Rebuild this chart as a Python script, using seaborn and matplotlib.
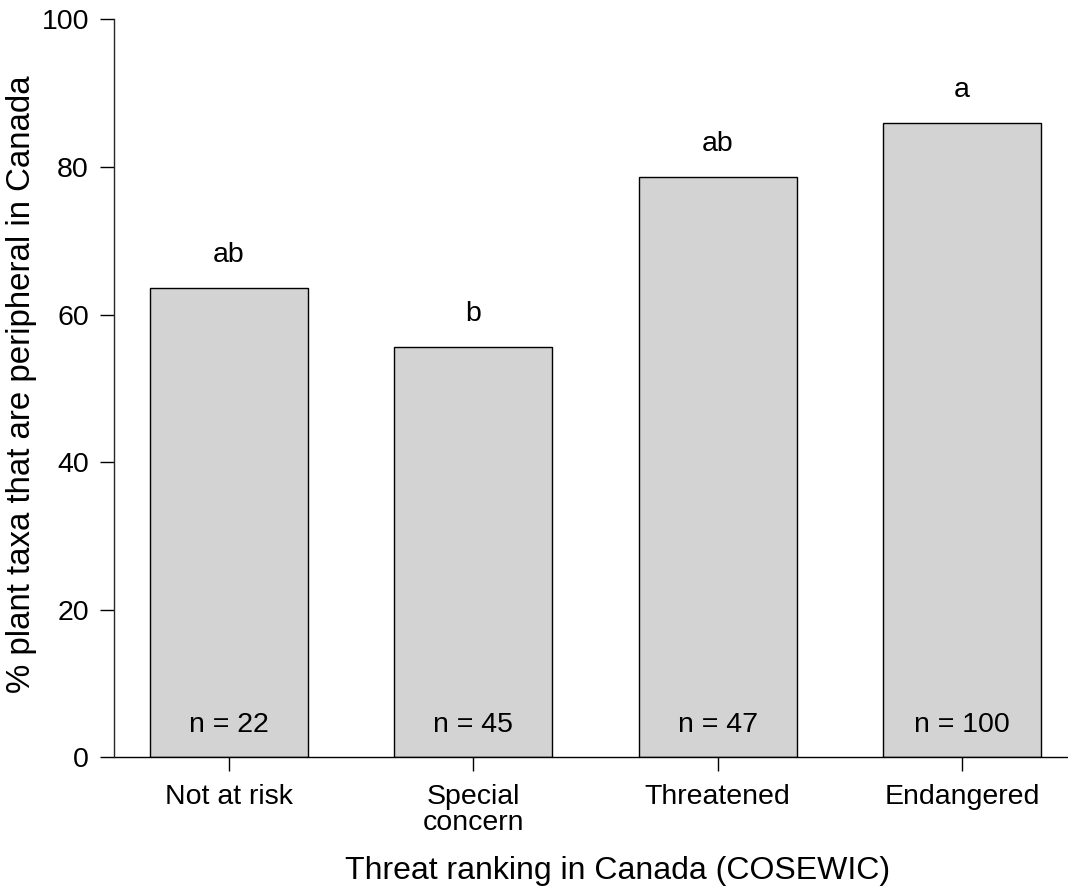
import matplotlib
matplotlib.use("Agg")
import matplotlib.pyplot as plt
import seaborn as sns
import pandas as pd

# Threat categories, share of peripheral taxa (%), sample sizes and significance letters
categories = ["Not at risk", "Special\nconcern", "Threatened", "Endangered"]
percent_peripheral = [63.6, 55.6, 78.7, 86.0]
sample_sizes = [22, 45, 47, 100]
group_letters = ["ab", "b", "ab", "a"]

sns.set_theme(style="ticks")
plt.rcParams["font.family"] = ["Liberation Sans", "DejaVu Sans"]
plt.rcParams["axes.linewidth"] = 1.0
plt.rcParams["text.color"] = "black"
plt.rcParams["axes.labelcolor"] = "black"

df = pd.DataFrame({"category": categories, "percent": percent_peripheral})

fig = plt.figure(figsize=(10.68, 8.94), dpi=100)
ax = fig.add_axes([0.1067, 0.1529, 0.8933, 0.8255])

sns.barplot(data=df, x="category", y="percent", ax=ax, color="#d3d3d3",
            saturation=1, edgecolor="black", linewidth=1.0, width=0.646)

ax.set_xlim(-0.471, 3.434)
ax.set_ylim(0, 100)
ax.set_yticks([0, 20, 40, 60, 80, 100])

for side in ["top", "right", "bottom"]:
    ax.spines[side].set_visible(False)
ax.axhline(0, color="black", lw=1.0, clip_on=False)

ax.tick_params(axis="both", which="major", length=10, width=1.0,
               colors="black", labelsize=20.5)
ax.tick_params(axis="x", pad=9)
ax.tick_params(axis="y", pad=8)
for lbl in ax.get_xticklabels():
    lbl.set_linespacing(1.0)

ax.set_xlabel("Threat ranking in Canada (COSEWIC)", fontsize=23)
ax.xaxis.set_label_coords(0.528, -0.134)

ax.set_ylabel("% plant taxa that are peripheral in Canada", fontsize=23.8)
ax.yaxis.set_label_coords(-0.0964, 0.506)
ax.yaxis.label.set_verticalalignment("center")
ax.yaxis.label.set_horizontalalignment("center")

for i, (val, n, letter) in enumerate(zip(percent_peripheral, sample_sizes, group_letters)):
    ax.annotate(letter, xy=(i, val), xytext=(0, 18.5), textcoords="offset points",
                ha="center", va="baseline", fontsize=20.5)
    ax.annotate(f"n = {n}", xy=(i, 0), xytext=(0, 18.5), textcoords="offset points",
                ha="center", va="baseline", fontsize=20.5)

fig.savefig("out.png", dpi=100)
